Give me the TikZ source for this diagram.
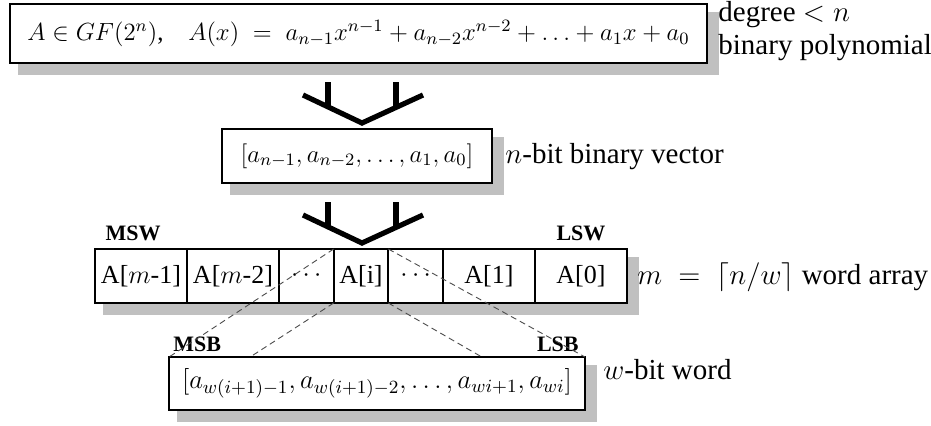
\RequirePackage{fix-cm}
\documentclass[tikz,border=0pt]{standalone}
\usepackage{fontspec}
\setmainfont{Liberation Serif}
\usetikzlibrary{positioning,calc,backgrounds}
\definecolor{ShadowGray}{RGB}{192,192,192}
\tikzset{
  box/.style={draw,line width=1pt,fill=white,outer sep=0pt,inner sep=0pt,
    font=\fontsize{12.4}{15}\selectfont},
  cell/.style={draw,line width=1pt,fill=white,outer sep=0pt,inner sep=0pt,
    minimum width=46pt,minimum height=27pt,font=\fontsize{13}{15}\selectfont},
  narrow/.style={cell,minimum width=27.33pt},
  tag/.style={font=\bfseries\fontsize{11}{13}\selectfont,inner sep=1pt},
  note/.style={anchor=west,align=left,inner sep=0pt,
    font=\fontsize{14.5}{16.5}\selectfont},
  merge/.style={line width=2.6pt},
  zoomline/.style={densely dashed,line width=0.45pt,black!70}
}

\begin{document}
\begin{tikzpicture}[x=0.5pt,y=-0.5pt]
\useasboundingbox (0,0) rectangle (931,425);

% polynomial, vector and word boxes
\node[box,minimum width=348.5pt,minimum height=29.5pt] (polybox) at (358.5,33.5)
  {$A \in GF(2^n)$,\quad $A(x) \;=\; a_{n-1}x^{n-1} + a_{n-2}x^{n-2} + \ldots + a_1x + a_0$};
\node[note] (polynote) at (718,31) {degree $<n$\\binary polynomial};

\node[box,minimum width=135pt,minimum height=27pt] (vecbox) at (357,156)
  {$[a_{n-1}, a_{n-2}, \ldots, a_1, a_0]$};
\node[note] (vecnote) at (505,157) {$n$-bit binary vector};

% word array
\node[cell,anchor=west] (cell1) at (95,276) {A[$m$-1]};
\node[cell,right=0pt of cell1] (cell2) {A[$m$-2]};
\node[narrow,right=0pt of cell2] (cell3) {$\cdots$};
\node[narrow,right=0pt of cell3] (cell4) {A[i]};
\node[narrow,right=0pt of cell4] (cell5) {$\cdots$};
\node[cell,right=0pt of cell5] (cell6) {A[1]};
\node[cell,right=0pt of cell6] (cell7) {A[0]};
\node[tag,above=3pt of cell1,xshift=-4pt] (msw) {MSW};
\node[tag,above=3pt of cell7] (lsw) {LSW};
\node[note] (arraynote) at (637,277) {$m \;=\; \lceil n/w \rceil$ word array};

\node[box,minimum width=208pt,minimum height=26.5pt,font=\fontsize{13.3}{16}\selectfont]
  (wordbox) at (377,383.5)
  {$[a_{w(i+1)-1}, a_{w(i+1)-2}, \ldots, a_{wi+1}, a_{wi}]$};
\node[tag,anchor=south west] (msb) at ($(wordbox.north west)+(2,-3)$) {MSB};
\node[tag,anchor=south east] (lsb) at ($(wordbox.north east)+(-4,-3)$) {LSB};
\node[note] (wordnote) at (603,370) {$w$-bit word};

% drop shadows
\begin{scope}[on background layer]
  \foreach \nw/\se in {polybox/polybox,vecbox/vecbox,cell1/cell7,wordbox/wordbox}
    \fill[ShadowGray] ($(\nw.north west)+(8,8)$) rectangle ($(\se.south east)+(12,12)$);
\end{scope}

% merge symbols
\foreach \yy in {0,120} {
  \draw[merge] (303,95+\yy) -- (362,123+\yy) -- (423,95+\yy);
  \draw[merge] (328,82+\yy) -- (328,107+\yy);
  \draw[merge] (396,82+\yy) -- (396,107+\yy);
}

% A[i] expanded into bits
\draw[zoomline] (cell4.north west) -- (wordbox.north west);
\draw[zoomline] (cell4.south west) -- ($(wordbox.north west)!0.195!(wordbox.north east)$);
\draw[zoomline] (cell4.south east) -- ($(wordbox.north west)!0.752!(wordbox.north east)$);
\draw[zoomline] (cell4.north east) -- (wordbox.north east);

\end{tikzpicture}
\end{document}
